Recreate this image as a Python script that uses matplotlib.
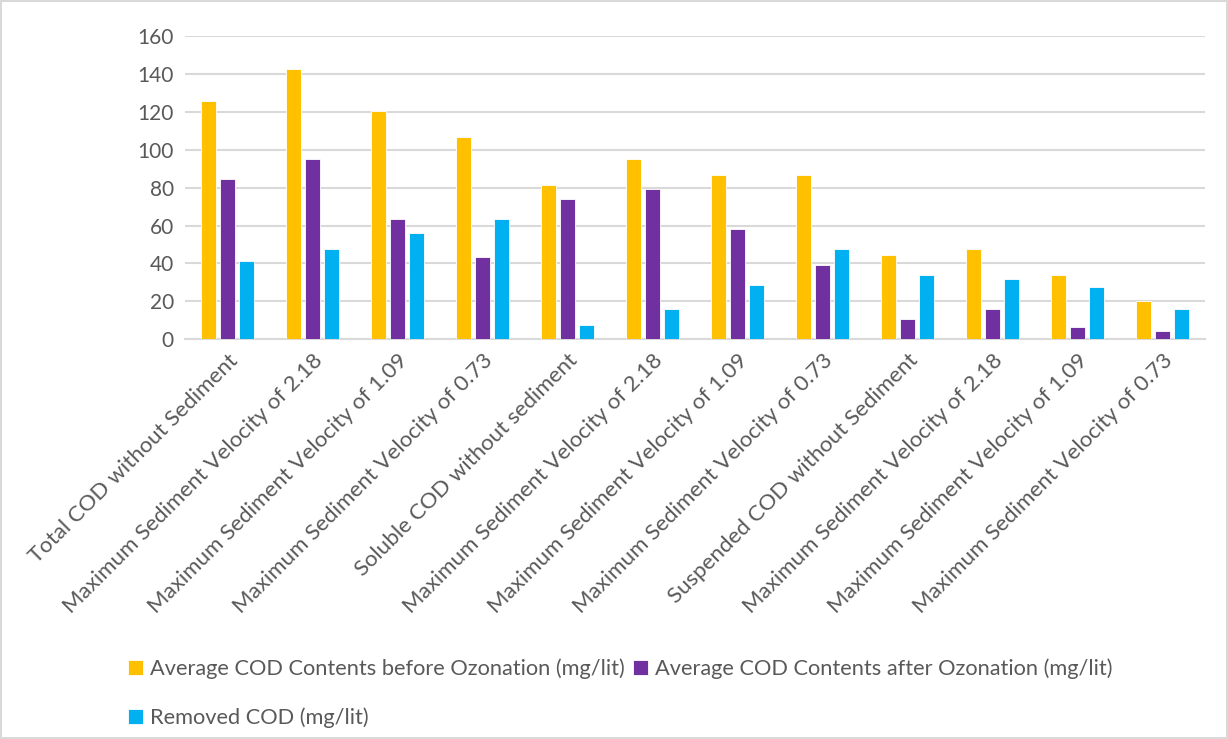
import matplotlib
matplotlib.use("Agg")
import matplotlib.pyplot as plt
import numpy as np

categories = [
    "Total COD without Sediment",
    "Maximum Sediment Velocity of 2.18",
    "Maximum Sediment Velocity of 1.09",
    "Maximum Sediment Velocity of 0.73",
    "Soluble COD without sediment",
    "Maximum Sediment Velocity of 2.18",
    "Maximum Sediment Velocity of 1.09",
    "Maximum Sediment Velocity of 0.73",
    "Suspended COD without Sediment",
    "Maximum Sediment Velocity of 2.18",
    "Maximum Sediment Velocity of 1.09",
    "Maximum Sediment Velocity of 0.73",
]
before = [125.5, 142.4, 120.4, 106.5, 81.4, 95.1, 86.7, 86.7, 44.5, 47.6, 33.9, 20.2]
after = [84.4, 94.9, 63.3, 43.4, 74.0, 79.3, 58.2, 39.2, 10.7, 16.2, 6.7, 4.6]
removed = [41.3, 47.5, 56.1, 63.3, 7.7, 16.2, 28.7, 47.6, 33.9, 31.8, 27.6, 16.2]
series_names = [
    "Average COD Contents before Ozonation (mg/lit)",
    "Average COD Contents after Ozonation (mg/lit)",
    "Removed COD (mg/lit)",
]
colors = ["#FFC000", "#7030A0", "#00B0F0"]
yticks = [0, 20, 40, 60, 80, 100, 120, 140, 160]

plt.rcParams["font.family"] = ["Lato", "DejaVu Sans"]

fig = plt.figure(figsize=(12.28, 7.39), dpi=100)
fig.patch.set_edgecolor("#D9D9D9")
fig.patch.set_linewidth(1.5)
ax = fig.add_axes([0.1507, 0.5409, 0.8306, 0.4104])

x = np.arange(len(categories))
w = 0.18
off = 0.225
for i, (vals, name, c) in enumerate(zip([before, after, removed], series_names, colors)):
    ax.bar(x + (i - 1) * off, vals, width=w, color=c, label=name,
           edgecolor="white", linewidth=0.6, zorder=3)

ax.set_xlim(-0.5, len(categories) - 0.5)
ax.set_ylim(0, 160)
ax.set_yticks(yticks)
ax.set_yticklabels([str(t) for t in yticks], fontsize=15, color="#595959")
ax.grid(axis="y", color="#D9D9D9", linewidth=1.5, zorder=0)
for s in ["top", "right", "left"]:
    ax.spines[s].set_visible(False)
ax.spines["bottom"].set_color("#D9D9D9")
ax.spines["bottom"].set_linewidth(1.5)
ax.tick_params(axis="both", length=0, pad=8)
ax.set_xticks(x)
ax.set_xticklabels(categories, rotation=45, ha="right", rotation_mode="anchor",
                   fontsize=16, color="#595959")

handles, labels = ax.get_legend_handles_labels()
order = [0, 2, 1]
leg = fig.legend([handles[i] for i in order], [labels[i] for i in order],
                 loc="lower center", bbox_to_anchor=(0.505, -0.012),
                 ncol=2, frameon=False, fontsize=15.7, labelcolor="#595959",
                 handlelength=0.7, handleheight=0.7, handletextpad=0.3,
                 columnspacing=0.4, labelspacing=1.3)

fig.savefig("out.png", dpi=100)
